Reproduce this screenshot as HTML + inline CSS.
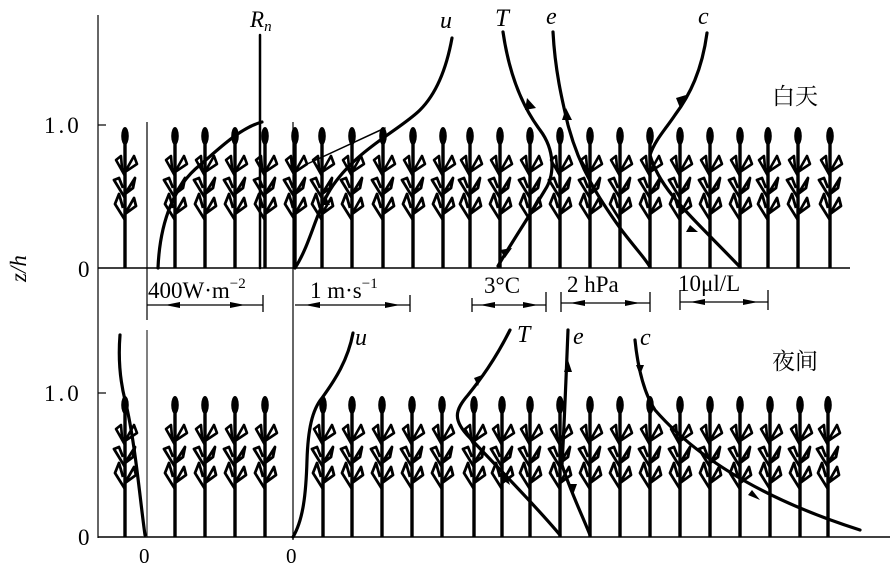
<!DOCTYPE html>
<html><head><meta charset="utf-8"><style>
html,body{margin:0;padding:0;background:#fff;}
svg{display:block;}
text{font-family:"Liberation Serif","Noto Serif CJK SC",serif;fill:#000;}
</style></head><body>
<svg width="896" height="569" viewBox="0 0 896 569" xmlns="http://www.w3.org/2000/svg">
<defs>
<g id="p" fill="none" stroke="#000" stroke-linejoin="round">
<line x1="0" y1="0" x2="0" y2="-128" stroke-width="3.4"/>
<ellipse cx="0" cy="-132" rx="3.8" ry="9" fill="#000" stroke="none"/>
<path d="M0,-92 L-9,-108 L-4,-112 L-3,-100 Z" stroke-width="2.6"/>
<path d="M0,-96 L9,-112 L12,-104 Z" stroke-width="2.6"/>
<path d="M0,-70 L-11,-88 L-6,-90 L-2,-80" stroke-width="2.8"/>
<path d="M0,-74 L10,-90 L8,-80 Z" stroke-width="2.8"/>
<path d="M0,-48 L-10,-64 L-6,-74 L-2,-60" stroke-width="2.8"/>
<path d="M0,-54 L9,-70 L11,-62 Z" stroke-width="2.8"/>
</g>
</defs>
<g stroke="#000" fill="none">
<line x1="98" y1="15" x2="98" y2="538" stroke-width="1.2"/>
<line x1="98" y1="268" x2="850" y2="268" stroke-width="1.5"/>
<line x1="98" y1="537" x2="890" y2="537" stroke-width="1.5"/>
<line x1="147" y1="122" x2="147" y2="320" stroke-width="1.2"/>
<line x1="147" y1="330" x2="147" y2="537" stroke-width="1"/>
<line x1="293" y1="122" x2="293" y2="540" stroke-width="1.2"/>
<line x1="98" y1="125" x2="106" y2="125" stroke-width="1.2"/>
<line x1="98" y1="393" x2="106" y2="393" stroke-width="1.2"/>
</g>
<g>
<use href="#p" x="125" y="268"/><use href="#p" x="175" y="268"/><use href="#p" x="205" y="268"/>
<use href="#p" x="235" y="268"/><use href="#p" x="265" y="268"/><use href="#p" x="295" y="268"/>
<use href="#p" x="322" y="268"/><use href="#p" x="352" y="268"/><use href="#p" x="383" y="268"/>
<use href="#p" x="413" y="268"/><use href="#p" x="443" y="268"/><use href="#p" x="470" y="268"/>
<use href="#p" x="500" y="268"/><use href="#p" x="530" y="268"/><use href="#p" x="560" y="268"/>
<use href="#p" x="590" y="268"/><use href="#p" x="620" y="268"/><use href="#p" x="650" y="268"/>
<use href="#p" x="680" y="268"/><use href="#p" x="710" y="268"/><use href="#p" x="740" y="268"/>
<use href="#p" x="768" y="268"/><use href="#p" x="798" y="268"/><use href="#p" x="830" y="268"/>
</g>
<g>
<use href="#p" x="125" y="537"/><use href="#p" x="175" y="537"/><use href="#p" x="205" y="537"/>
<use href="#p" x="235" y="537"/><use href="#p" x="265" y="537"/>
<use href="#p" x="323" y="537"/><use href="#p" x="352" y="537"/><use href="#p" x="382" y="537"/>
<use href="#p" x="412" y="537"/><use href="#p" x="442" y="537"/><use href="#p" x="474" y="537"/>
<use href="#p" x="502" y="537"/><use href="#p" x="530" y="537"/><use href="#p" x="560" y="537"/>
<use href="#p" x="590" y="537"/><use href="#p" x="620" y="537"/><use href="#p" x="650" y="537"/>
<use href="#p" x="680" y="537"/><use href="#p" x="710" y="537"/><use href="#p" x="740" y="537"/>
<use href="#p" x="770" y="537"/><use href="#p" x="800" y="537"/><use href="#p" x="828" y="537"/>
</g>
<g stroke="#000" fill="none" stroke-width="3.2" stroke-linecap="round">
<line x1="260" y1="35" x2="260" y2="268" stroke-width="2.5"/>
<path d="M158,268 C160,220 175,185 200,165 C220,148 240,128 262,122"/>
<path d="M295,268 C310,245 315,215 330,190 C355,150 400,130 420,110 C440,90 448,60 452,38"/>
<path d="M305,165 L385,128" stroke-width="1.5"/>
<path d="M503,32 C510,80 525,110 540,130 C555,150 555,175 545,190 C530,215 510,245 498,266"/>
<path d="M553,32 C555,70 562,100 568,125 C580,170 600,200 620,228 C635,248 645,258 650,267"/>
<path d="M707,33 C702,70 690,95 675,115 C665,130 655,140 650,155 C660,190 690,215 740,267"/>
<path d="M120,335 C118,360 120,380 125,400 C135,440 140,500 145,535"/>
<path d="M293,537 C303,520 306,495 307,460 C308,430 312,410 322,398 C335,380 348,360 353,333"/>
<path d="M510,330 C495,360 480,380 468,395 C455,410 452,420 470,438 C500,470 535,505 560,535"/>
<path d="M568,330 C566,380 564,430 562,465 C570,490 582,515 590,535"/>
<path d="M635,340 C638,370 645,395 655,410 C690,450 750,495 860,530"/>
</g>
<g fill="#000">
<polygon points="527,98 536,108 525,110"/>
<polygon points="512,248 505,258 500,250"/>
<polygon points="566,108 572,120 562,120"/>
<polygon points="686,95 680,108 676,98"/>
<polygon points="690,225 698,232 686,232"/>
<polygon points="325,195 320,205 330,205"/>
<polygon points="482,375 478,386 474,378"/>
<polygon points="510,485 500,478 506,473"/>
<polygon points="568,360 564,372 572,372"/>
<polygon points="573,495 569,484 577,484"/>
<polygon points="640,375 644,365 636,365"/>
<polygon points="760,500 748,495 752,490"/>
</g>
<g stroke="#000" stroke-width="1.3" fill="none">
<line x1="147" y1="305" x2="263" y2="305"/><line x1="263" y1="295" x2="263" y2="312"/>
<line x1="295" y1="305" x2="410" y2="305"/><line x1="410" y1="295" x2="410" y2="312"/>
<line x1="472" y1="305" x2="546" y2="305"/><line x1="472" y1="298" x2="472" y2="312"/><line x1="546" y1="292" x2="546" y2="312"/>
<line x1="561" y1="303" x2="650" y2="303"/><line x1="561" y1="292" x2="561" y2="312"/><line x1="650" y1="292" x2="650" y2="312"/>
<line x1="680" y1="302" x2="768" y2="302"/><line x1="680" y1="290" x2="680" y2="310"/><line x1="768" y1="290" x2="768" y2="310"/>
</g>
<g fill="#000">
<polygon points="165,305 180,302 180,308"/><polygon points="245,305 230,302 230,308"/>
<polygon points="305,305 320,302 320,308"/><polygon points="400,305 385,302 385,308"/>
<polygon points="480,305 495,302 495,308"/><polygon points="538,305 523,302 523,308"/>
<polygon points="570,303 585,300 585,306"/><polygon points="640,303 625,300 625,306"/>
<polygon points="690,302 705,299 705,305"/><polygon points="758,302 743,299 743,305"/>
</g>
<text x="250" y="27" font-size="23" font-style="italic">R<tspan font-size="15" dy="4">n</tspan></text>
<text x="440" y="28" font-size="24" font-style="italic">u</text>
<text x="495" y="26" font-size="25" font-style="italic">T</text>
<text x="546" y="24" font-size="24" font-style="italic">e</text>
<text x="698" y="24" font-size="24" font-style="italic">c</text>
<text x="772" y="104" font-size="23">白天</text>
<text x="772" y="369" font-size="23">夜间</text>
<text x="355" y="345" font-size="24" font-style="italic">u</text>
<text x="517" y="342" font-size="24" font-style="italic">T</text>
<text x="573" y="344" font-size="24" font-style="italic">e</text>
<text x="640" y="345" font-size="24" font-style="italic">c</text>
<text x="44" y="133" font-size="23" letter-spacing="3">1.0</text>
<text x="44" y="401" font-size="23" letter-spacing="3">1.0</text>
<text x="78" y="277" font-size="23">0</text>
<text x="78" y="545" font-size="23">0</text>
<text x="139" y="563" font-size="21">0</text>
<text x="286" y="563" font-size="21">0</text>
<text x="0" y="0" font-size="23" font-style="italic" transform="translate(26,282) rotate(-90)">z/h</text>
<text x="148" y="298" font-size="23">400W·m<tspan font-size="15" dy="-10">−2</tspan></text>
<text x="310" y="298" font-size="23">1 m·s<tspan font-size="15" dy="-10">−1</tspan></text>
<text x="484" y="293" font-size="23">3°C</text>
<text x="567" y="292" font-size="23">2 hPa</text>
<text x="678" y="291" font-size="23">10μl/L</text>
</svg>
</body></html>
